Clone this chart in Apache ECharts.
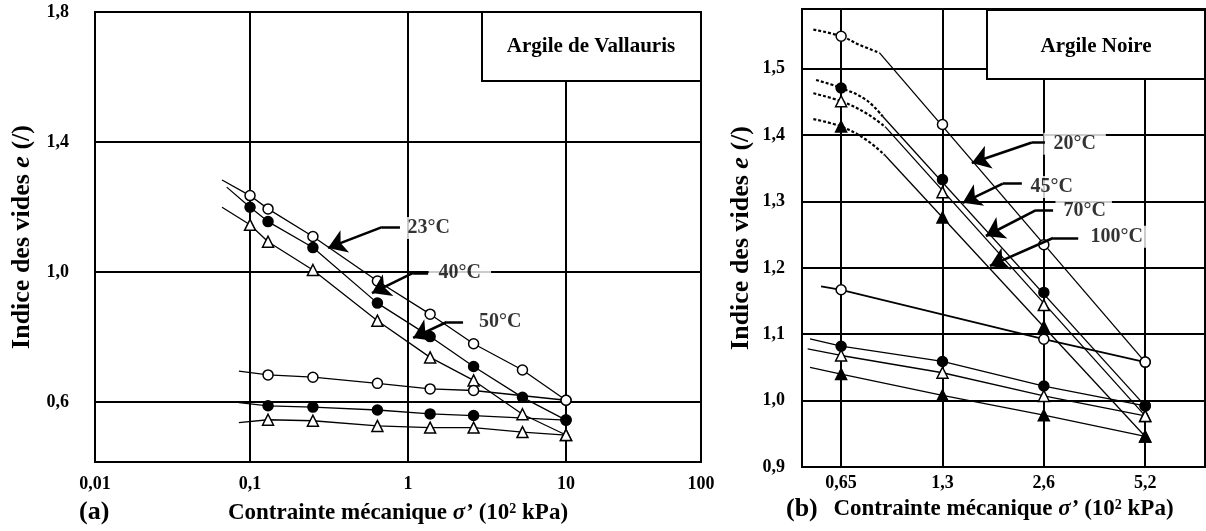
<!DOCTYPE html>
<html><head><meta charset="utf-8">
<script src="https://cdn.jsdelivr.net/npm/echarts@6/dist/echarts.min.js"></script>
<style>html,body{margin:0;padding:0;background:#fff}#c{width:1206px;height:531px}</style>
</head><body><div id="c"></div><script>
// ---------- Panel (a): Argile de Vallauris (log scale) ----------
const stressA = [0.1, 0.13, 0.25, 0.64, 1.38, 2.6, 5.3, 10];
const loadA_23 = [1.235, 1.194, 1.109, 0.972, 0.870, 0.779, 0.698, 0.605];
const loadA_40 = [1.199, 1.155, 1.075, 0.904, 0.801, 0.709, 0.614, 0.544];
const loadA_50 = [1.145, 1.093, 1.006, 0.850, 0.737, 0.666, 0.562, 0.498];
const stressA_unload = [0.13, 0.25, 0.64, 1.38, 2.6, 5.3, 10];
const unloadA_23 = [0.683, 0.676, 0.657, 0.640, 0.635, null, 0.605];
const unloadA_40 = [0.588, 0.584, 0.575, 0.563, 0.558, null, 0.544];
const unloadA_50 = [0.545, 0.542, 0.526, 0.521, 0.521, 0.507, 0.498];
// left ends of the drawn lines [stress, e]
const loadStartA = [[0.0665, 1.283], [0.0712, 1.261], [0.0665, 1.199]];
const unloadStartA = [[0.085, 0.695], [0.085, 0.598], [0.085, 0.536]];
const yTicksA = [0.6, 1.0, 1.4, 1.8];
const xRangeA = [0.01044, 71.5];
const xLabelA = {min: '0,01', max: '100'};

// ---------- Panel (b): Argile Noire (doubling steps) ----------
const stressB = ['0,65', '1,3', '2,6', '5,2'];
const stepB = [0, 1, 2, 3];
const loadB_20 = [1.549, 1.416, 1.235, 1.058];
const loadB_45 = [1.471, 1.333, 1.163, 0.992];
const loadB_70 = [1.451, 1.314, 1.144, 0.977];
const loadB_100 = [1.413, 1.276, 1.111, 0.946];
const unloadB_20 = [1.167, null, 1.0925, 1.058];
const unloadB_45 = [1.082, 1.059, 1.022, 0.992];
const unloadB_70 = [1.068, 1.042, 1.007, 0.977];
const unloadB_100 = [1.040, 1.008, 0.978, 0.946];
// dotted initial curves [step, e]
const curveB_20 = [[-0.274, 1.559], [0, 1.549], [0.181, 1.536], [0.379, 1.524]];
const curveB_45 = [[-0.247, 1.483], [0, 1.471], [0.247, 1.453], [0.411, 1.428]];
const curveB_70 = [[-0.274, 1.463], [0, 1.451], [0.247, 1.433], [0.438, 1.412]];
const curveB_100 = [[-0.274, 1.424], [0, 1.413], [0.247, 1.393], [0.43, 1.370]];
const unloadStartB = [[-0.198, 1.172], [-0.307, 1.093], [-0.330, 1.078], [-0.307, 1.050]];
const yTicksB = [0.9, 1.0, 1.1, 1.2, 1.3, 1.4, 1.5];
const xRangeB = [-0.386, 3.59];

// ---------- annotations ----------
const labelsA = [['23°C', 0.915, 1.135, [1, 4, 1, 5]], ['40°C', 1.34, 0.997, [1, 10, 1, 10]], ['50°C', 2.63, 0.846, [1, 4, 1, 4]]];
const arrowsA = [[[0.889, 1.138], [0.684, 1.138], [0.3115, 1.074]],
                 [[1.34, 0.997], [1.077, 0.997], [0.591, 0.935]],
                 [[2.23, 0.846], [1.76, 0.846], [1.077, 0.797]]];
const labelsB = [['20°C', 1.991, 1.387, [1, 10, 1, 10]], ['45°C', 1.823, 1.322, [1, 4, 1, 4]],
                 ['70°C', 2.110, 1.286, [1, 6, 1, 8]], ['100°C', 2.387, 1.247, [1, 12, 1, 7]]];
const arrowsB = [[[2.011, 1.389], [1.882, 1.389], [1.289, 1.358]],
                 [[1.783, 1.327], [1.595, 1.327], [1.200, 1.298]],
                 [[2.091, 1.287], [1.923, 1.287], [1.428, 1.248]],
                 [[2.339, 1.245], [2.091, 1.245], [1.468, 1.203]]];

const FONT = '"Liberation Serif", "Times New Roman", serif';
const zip = (xs, ys) => xs.map((x, i) => [x, ys[i]]).filter(d => d[1] != null);

function marks(ax, data, kind) {
  const filled = kind === 'dot' || kind === 'tri';
  const tri = kind === 'tri' || kind === 'otri';
  return {type: 'scatter', xAxisIndex: ax, yAxisIndex: ax, data: data, z: 5,
    symbol: tri ? 'triangle' : 'circle', symbolSize: tri ? 11 : 10,
    itemStyle: {color: filled ? '#000' : '#fff', borderColor: '#000', borderWidth: 1.5, opacity: 1}};
}
function line(ax, data, opts) {
  opts = opts || {};
  return {type: 'line', xAxisIndex: ax, yAxisIndex: ax, data: data, symbol: 'none', z: 3,
    smooth: opts.smooth ? 0.4 : false,
    lineStyle: {color: '#000', width: opts.width || 1.3, type: opts.dash ? [3, 2] : 'solid'}};
}
function annot(ax, labels, arrows) {
  return [
    {type: 'lines', coordinateSystem: 'cartesian2d', xAxisIndex: ax, yAxisIndex: ax, z: 6,
     data: arrows.map(a => ({coords: [a[0], a[1]]})), symbol: 'none',
     lineStyle: {color: '#000', width: 2.6, opacity: 1}},
    {type: 'lines', coordinateSystem: 'cartesian2d', xAxisIndex: ax, yAxisIndex: ax, z: 6,
     data: arrows.map(a => ({coords: [a[1], a[2]]})), symbol: ['none', 'arrow'], symbolSize: [13, 18],
     lineStyle: {color: '#000', width: 2.6, opacity: 1}, itemStyle: {color: '#000'}},
    {type: 'scatter', xAxisIndex: ax, yAxisIndex: ax, z: 4, symbolSize: 1,
     itemStyle: {color: 'rgba(0,0,0,0)'},
     data: labels.map(l => ({name: l[0], value: [l[1], l[2]], label: {padding: l[3]}})),
     label: {show: true, position: 'right', distance: 0, formatter: '{b}', color: '#000',
       backgroundColor: '#fff', fontFamily: FONT, fontWeight: 'bold', fontSize: 20}}
  ];
}

const axisText = {color: '#000', fontFamily: FONT, fontWeight: 'bold', fontSize: 18};
const mkName = (size) => ({color: '#000', fontFamily: FONT, fontWeight: 'bold', fontSize: size,
  rich: {i: {fontFamily: FONT, fontWeight: 'bold', fontStyle: 'italic', fontSize: size, color: '#000'},
         sup: {fontFamily: FONT, fontWeight: 'bold', fontSize: 14, color: '#000', verticalAlign: 'top', lineHeight: 14}}});
const split = {show: true, lineStyle: {color: '#000', width: 2}};
const xName = 'Contrainte mécanique {i|σ\u2019} (10{sup|2} kPa)';
const yName = 'Indice des vides {i|e} (/)';

const series = [];
// panel (a)
[loadA_23, loadA_40, loadA_50].forEach((v, k) => series.push(line(0, [loadStartA[k]].concat(zip(stressA, v)))));
[unloadA_23, unloadA_40, unloadA_50].forEach((v, k) => series.push(line(0, [unloadStartA[k]].concat(zip(stressA_unload, v)))));
series.push(marks(0, zip(stressA, loadA_23), 'open'), marks(0, zip(stressA, loadA_40), 'dot'), marks(0, zip(stressA, loadA_50), 'otri'));
series.push(marks(0, zip(stressA_unload, unloadA_23), 'open'), marks(0, zip(stressA_unload, unloadA_40), 'dot'), marks(0, zip(stressA_unload, unloadA_50), 'otri'));
// panel (b)
const curvesB = [curveB_20, curveB_45, curveB_70, curveB_100];
const loadsB = [loadB_20, loadB_45, loadB_70, loadB_100];
const unloadsB = [unloadB_20, unloadB_45, unloadB_70, unloadB_100];
const kindsB = ['open', 'dot', 'otri', 'tri'];
curvesB.forEach((c, k) => {
  series.push(line(1, c, {dash: true, smooth: true, width: 2.2}));
  series.push(line(1, [c[c.length - 1], [stepB[3], loadsB[k][3]]]));
  series.push(line(1, [unloadStartB[k]].concat(zip(stepB, unloadsB[k])), {width: k === 0 ? 1.8 : 1.3}));
  series.push(marks(1, zip(stepB, loadsB[k]), kindsB[k]));
  series.push(marks(1, zip(stepB, unloadsB[k]), kindsB[k]));
});
series.push(...annot(0, labelsA, arrowsA), ...annot(1, labelsB, arrowsB));

const chart = echarts.init(document.getElementById('c'), null, {renderer: 'canvas'});
chart.setOption({
  animation: false,
  backgroundColor: '#fff',
  title: [
    {text: '(a)', left: 79, top: 499, padding: 0, textStyle: {fontFamily: FONT, fontWeight: 'bold', fontSize: 26, color: '#000'}},
    {text: '(b)', left: 786, top: 496, padding: 0, textStyle: {fontFamily: FONT, fontWeight: 'bold', fontSize: 26, color: '#000'}}
  ],
  grid: [
    {left: 95, top: 12, width: 606, height: 450, show: true, borderColor: '#000', borderWidth: 2, backgroundColor: 'rgba(0,0,0,0)'},
    {left: 802, top: 9, width: 403, height: 458, show: true, borderColor: '#000', borderWidth: 2, backgroundColor: 'rgba(0,0,0,0)'}
  ],
  xAxis: [
    {type: 'log', gridIndex: 0, min: xRangeA[0], max: xRangeA[1], logBase: 10,
     axisLine: {show: false}, axisTick: {show: false}, splitLine: split, minorTick: {show: false},
     axisLabel: Object.assign({margin: 13, showMinLabel: true, showMaxLabel: true,
       formatter: v => v < 0.05 ? xLabelA.min : v > 50 ? xLabelA.max : String(+v.toPrecision(3)).replace('.', ',')}, axisText),
     name: xName, nameLocation: 'middle', nameGap: 40, nameTextStyle: mkName(23)},
    {type: 'value', gridIndex: 1, min: xRangeB[0], max: xRangeB[1],
     axisLine: {show: false}, axisTick: {show: false, customValues: stepB}, splitLine: split,
     axisLabel: Object.assign({margin: 7, customValues: stepB, formatter: v => stressB[Math.round(v)]}, axisText),
     name: xName, nameLocation: 'middle', nameGap: 31, nameTextStyle: mkName(23)}
  ],
  yAxis: [
    {type: 'value', gridIndex: 0, min: 0.415, max: 1.8,
     axisLine: {show: false}, axisTick: {show: false, customValues: yTicksA}, splitLine: split,
     axisLabel: Object.assign({margin: 26, customValues: yTicksA, formatter: v => v.toFixed(1).replace('.', ',')}, axisText),
     name: yName, nameLocation: 'middle', nameGap: 60, nameRotate: 90, nameTextStyle: mkName(26)},
    {type: 'value', gridIndex: 1, min: 0.9, max: 1.59,
     axisLine: {show: false}, axisTick: {show: false, customValues: yTicksB}, splitLine: split,
     axisLabel: Object.assign({margin: 17, customValues: yTicksB, formatter: v => v.toFixed(1).replace('.', ',')}, axisText),
     name: yName, nameLocation: 'middle', nameGap: 48, nameRotate: 90, nameTextStyle: mkName(26)}
  ],
  graphic: [
    {type: 'rect', z: 100, shape: {x: 482, y: 12, width: 219, height: 69}, style: {fill: '#fff', stroke: '#000', lineWidth: 2}},
    {type: 'text', z: 101, x: 591, y: 47, style: {text: 'Argile de Vallauris', font: 'bold 21px ' + FONT, fill: '#000', align: 'center', verticalAlign: 'middle', textAlign: 'center', textVerticalAlign: 'middle'}},
    {type: 'rect', z: 100, shape: {x: 987, y: 10, width: 218, height: 69}, style: {fill: '#fff', stroke: '#000', lineWidth: 2}},
    {type: 'text', z: 101, x: 1096, y: 47, style: {text: 'Argile Noire', font: 'bold 21px ' + FONT, fill: '#000', align: 'center', verticalAlign: 'middle', textAlign: 'center', textVerticalAlign: 'middle'}}
  ],
  series: series
});
</script></body></html>
